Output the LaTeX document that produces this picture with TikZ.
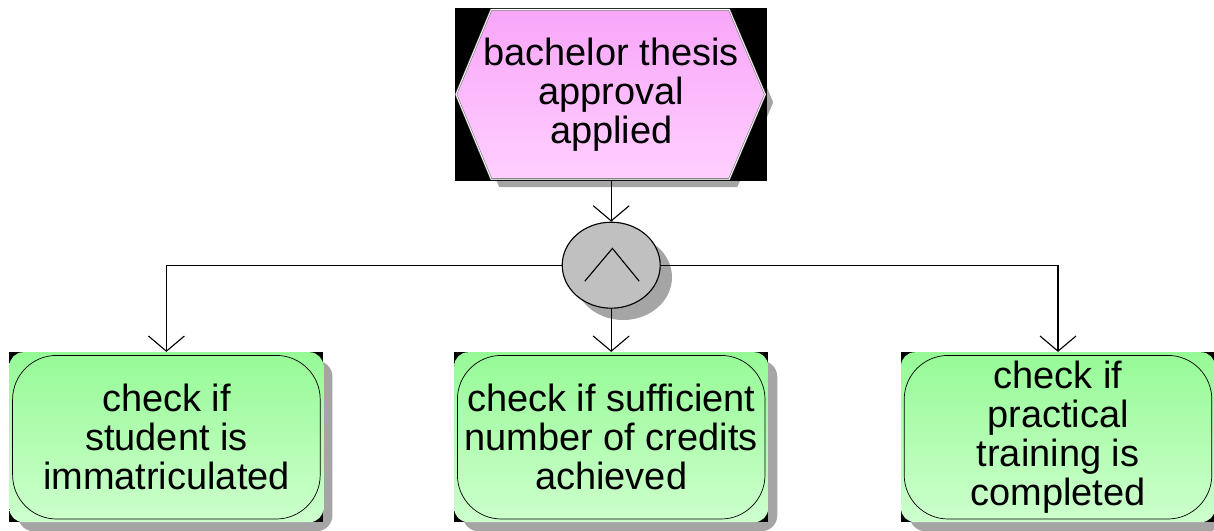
\documentclass[tikz,border=0pt]{standalone}
\usepackage{fontspec}
\setmainfont{Liberation Sans}
\usetikzlibrary{shapes.geometric, arrows.meta, calc}
\definecolor{evtop}{RGB}{248,165,248}
\definecolor{evbot}{RGB}{255,208,255}
\definecolor{fntop}{RGB}{150,250,150}
\definecolor{fnbot}{RGB}{205,255,205}
\definecolor{conngray}{RGB}{192,192,192}
\definecolor{shadowgray}{RGB}{165,165,165}
\pgfdeclarelayer{background}
\pgfsetlayers{background,main}

\begin{document}
\begin{tikzpicture}[
        every node/.style={font=\fontsize{27}{27.8}\selectfont, align=center},
        event/.style={fill=black, inner sep=0pt, minimum width=7.8cm, minimum height=4.33cm,
            path picture={\shadedraw[top color=evtop, bottom color=evbot, draw=black!55, double=white, double distance=0.6pt]
                ($(path picture bounding box.center)+(-3.88,0)$) -- ($(path picture bounding box.center)+(-3,2.12)$)
                -- ($(path picture bounding box.center)+(2.95,2.12)$) -- ($(path picture bounding box.center)+(3.85,0)$)
                -- ($(path picture bounding box.center)+(2.95,-2.12)$) -- ($(path picture bounding box.center)+(-3,-2.12)$) -- cycle;}},
        func/.style={fill=black, inner sep=0pt, minimum width=7.85cm, minimum height=4.25cm,
            path picture={\shade[top color=fntop, bottom color=fnbot, rounded corners=0.35cm]
                (path picture bounding box.north west) rectangle (path picture bounding box.south east);
                \draw[rounded corners=1.1cm, line width=0.5pt]
                ([shift={(0.08,-0.08)}]path picture bounding box.north west) rectangle ([shift={(-0.08,0.08)}]path picture bounding box.south east);}},
        conn/.style={ellipse, draw, fill=conngray, line width=0.8pt, minimum width=2.45cm, minimum height=2.15cm},
        shadowfill/.style={fill=shadowgray},
        arr/.style={-{Straight Barb[length=0.38cm, width=0.9cm]}, line width=0.8pt}
    ]
    \useasboundingbox (0,0) rectangle (30.35,-13.25);

    % Event
    \node[event] (ev) at (15.28, -2.36) {bachelor thesis\\approval\\applied};

    % AND connector
    \node[conn] (and) at (15.28, -6.63) {};
    \draw[line width=0.8pt] ($(and.center)+(-0.66,-0.4)$) -- ($(and.center)+(0.03,0.42)$) -- ($(and.center)+(0.7,-0.4)$);

    % Functions
    \node[func] (f1) at (4.16, -10.93) {check if\\student is\\immatriculated};
    \node[func] (f2) at (15.28, -10.93) {check if sufficient\\number of credits\\achieved};
    \node[func] (f3) at (26.45, -10.93) {check if\\practical\\training is\\completed};

    % Arrows
    \draw[arr] (ev.south) -- (and.north);
    \draw[arr] (and.west) -| (f1.north);
    \draw[arr] (and.south) -- (f2.north);
    \draw[arr] (and.east) -| (f3.north);

    % Shadows
    \begin{pgfonlayer}{background}
        \fill[shadowfill, shift={($(ev.center)+(0.2,-0.2)$)}]
            (-3.88,0) -- (-3,2.12) -- (2.95,2.12) -- (3.85,0) -- (2.95,-2.12) -- (-3,-2.12) -- cycle;
        \fill[shadowfill] ($(and.center)+(0.3,-0.3)$) ellipse (1.22 and 1.07);
        \fill[shadowfill, rounded corners=0.4cm] ($(f1.north west)+(0.22,-0.22)$) rectangle ($(f1.south east)+(0.22,-0.22)$);
        \fill[shadowfill, rounded corners=0.4cm] ($(f2.north west)+(0.22,-0.22)$) rectangle ($(f2.south east)+(0.22,-0.22)$);
        \fill[shadowfill, rounded corners=0.4cm] ($(f3.north west)+(0.22,-0.22)$) rectangle ($(f3.south east)+(0.22,-0.22)$);
    \end{pgfonlayer}
\end{tikzpicture}
\end{document}
